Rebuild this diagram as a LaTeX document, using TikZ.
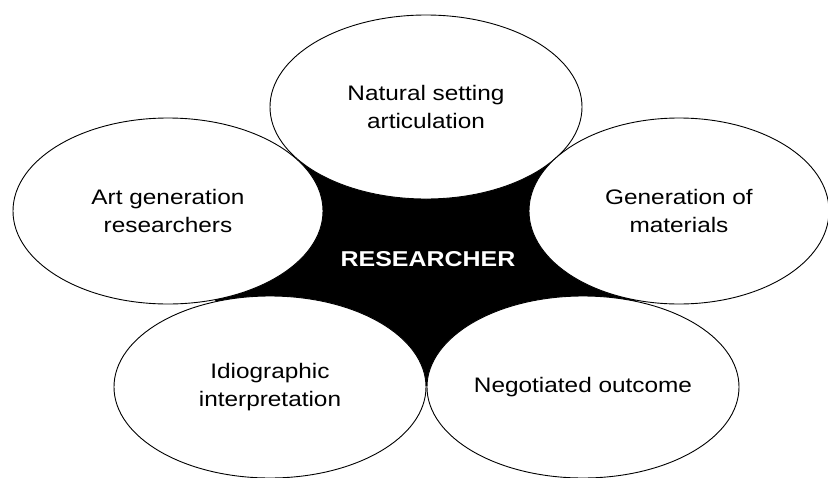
\documentclass[tikz,border=0pt]{standalone}
\usepackage{fontspec}
\setmainfont[FakeStretch=1.16]{Liberation Sans}
\usetikzlibrary{shapes.geometric}
\begin{document}
\begin{tikzpicture}[x=1pt,y=-1pt,
  petal/.style={ellipse, draw=black, line width=0.9pt, fill=white, inner sep=0pt,
    align=center, font=\fontsize{21}{28}\selectfont},
  hub/.style={text=white, font=\bfseries\fontsize{21.5}{26}\selectfont, inner sep=0pt}
]
\useasboundingbox (0,0) rectangle (828,477);
\coordinate (tl) at (298,162);
\coordinate (tr) at (559,156);
\coordinate (rb) at (636,301);
\coordinate (bb) at (427,386);
\coordinate (lb) at (215,301);
\fill[black] (tl) -- (tr) -- (rb) -- (bb) -- (lb) -- cycle;
\node[petal, minimum width=312pt, minimum height=184pt] (top) at (426,107) {Natural setting\\articulation};
\node[petal, minimum width=310pt, minimum height=186pt] (left) at (168,211) {Art generation\\researchers};
\node[petal, minimum width=300pt, minimum height=186pt] (right) at (679,211) {Generation of\\materials};
\node[petal, minimum width=312pt, minimum height=182pt] (bl) at (270,387) {Idiographic\\interpretation};
\node[petal, minimum width=312pt, minimum height=182pt] (br) at (583,387) {Negotiated outcome};
\node[hub] (res) at (428,259) {RESEARCHER};
\end{tikzpicture}
\end{document}
